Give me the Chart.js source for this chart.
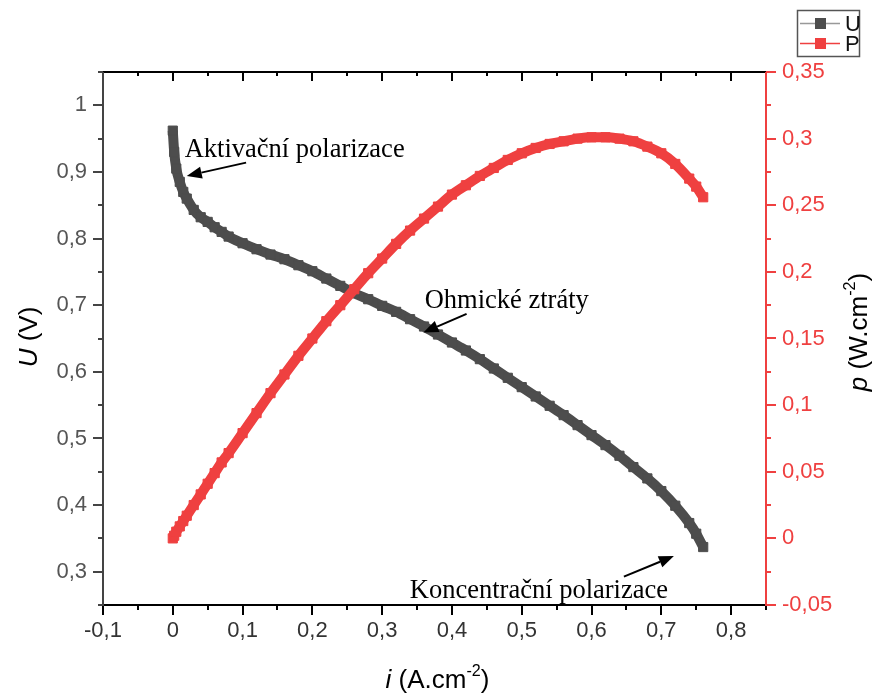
<!DOCTYPE html>
<html>
<head>
<meta charset="utf-8">
<script src="https://cdn.jsdelivr.net/npm/chart.js@4.4.1/dist/chart.umd.min.js"></script>
<style>
    html, body { margin: 0; padding: 0; background: #fff; }
    #obal { width: 878px; height: 693px; }
</style>
</head>
<body>
<div id="obal"><canvas id="graf" width="878" height="693"></canvas></div>
<script>
// hustota proudu i (A.cm-2)
const proud = [0, 0.002, 0.005, 0.01, 0.015, 0.02, 0.03, 0.04, 0.05, 0.06, 0.07, 0.08, 0.10,
    0.12, 0.14, 0.16, 0.18, 0.20, 0.22, 0.24, 0.26, 0.28, 0.30, 0.32, 0.34, 0.36, 0.38, 0.40,
    0.42, 0.44, 0.46, 0.48, 0.50, 0.52, 0.54, 0.56, 0.58, 0.60, 0.62, 0.64, 0.66, 0.68, 0.70,
    0.72, 0.74, 0.75, 0.76];
// napeti U (V)
const napeti = [0.962, 0.930, 0.905, 0.885, 0.870, 0.860, 0.843, 0.832, 0.825, 0.817, 0.810, 0.803, 0.793,
    0.784, 0.776, 0.769, 0.760, 0.751, 0.740, 0.729, 0.718, 0.709, 0.699, 0.690, 0.679, 0.668, 0.656, 0.644,
    0.632, 0.619, 0.605, 0.591, 0.577, 0.563, 0.549, 0.535, 0.520, 0.505, 0.490, 0.474, 0.457, 0.440, 0.421,
    0.399, 0.373, 0.357, 0.337];
// vykon p (W.cm-2)
const vykon = [0, 0.002, 0.005, 0.009, 0.013, 0.017, 0.025, 0.033, 0.041, 0.049, 0.057, 0.064, 0.079,
    0.094, 0.109, 0.123, 0.137, 0.150, 0.163, 0.175, 0.187, 0.199, 0.210, 0.221, 0.231, 0.240, 0.249, 0.258,
    0.265, 0.272, 0.278, 0.284, 0.289, 0.293, 0.296, 0.298, 0.300, 0.301, 0.301, 0.300, 0.298, 0.294, 0.289,
    0.281, 0.270, 0.264, 0.256];

// popisky os
const xTicks = [-0.1, 0, 0.1, 0.2, 0.3, 0.4, 0.5, 0.6, 0.7, 0.8];
const xMinor = [-0.05, 0.05, 0.15, 0.25, 0.35, 0.45, 0.55, 0.65, 0.75, 0.85];
const uTicks = [0.3, 0.4, 0.5, 0.6, 0.7, 0.8, 0.9, 1];
const uMinor = [0.25, 0.35, 0.45, 0.55, 0.65, 0.75, 0.85, 0.95, 1.05];
const pTicks = [-0.05, 0, 0.05, 0.1, 0.15, 0.2, 0.25, 0.3, 0.35];
const pMinor = [-0.025, 0.025, 0.075, 0.125, 0.175, 0.225, 0.275, 0.325];

// popisky oblasti krivky [text, i, U] a sipky [i1, U1, i2, U2]
const popisky = [
    ['Aktivační polarizace', 0.017, 0.923],
    ['Ohmické ztráty', 0.361, 0.696],
    ['Koncentrační polarizace', 0.3396, 0.261]
];
const sipky = [
    [0.105, 0.914, 0.020, 0.894],
    [0.421, 0.687, 0.359, 0.659],
    [0.6464, 0.2925, 0.718, 0.3236]
];

const barvaU = '#4d4d4d';
const barvaP = '#ef4040';
const pismo = 'Arial, "Liberation Sans", sans-serif';
const patkove = '"Times New Roman", "Liberation Serif", serif';

function carka(v) {
    return (Math.round(v * 1000) / 1000).toString().replace('.', ',');
}

function bodyU() {
    return proud.map((x, k) => ({ x: x, y: napeti[k] }));
}
function bodyP() {
    return proud.map((x, k) => ({ x: x, y: vykon[k] }));
}

// text s hornim indexem, kresleny kolem stredu
function bohatyText(ctx, casti, size, cx, cy, uhel) {
    ctx.save();
    ctx.translate(cx, cy);
    ctx.rotate(uhel);
    ctx.textBaseline = 'alphabetic';
    ctx.textAlign = 'left';
    let sirka = 0;
    casti.forEach(c => {
        ctx.font = (c.it ? 'italic ' : '') + (c.sup ? size * 0.62 : size) + 'px ' + pismo;
        c.w = ctx.measureText(c.t).width;
        sirka += c.w;
    });
    let x = -sirka / 2;
    casti.forEach(c => {
        ctx.font = (c.it ? 'italic ' : '') + (c.sup ? size * 0.62 : size) + 'px ' + pismo;
        ctx.fillText(c.t, x, c.sup ? -size * 0.45 : 0);
        x += c.w;
    });
    ctx.restore();
}

function sipka(ctx, x1, y1, x2, y2) {
    const uhel = Math.atan2(y2 - y1, x2 - x1);
    const delka = 15, pul = 6;
    const bx = x2 - delka * Math.cos(uhel), by = y2 - delka * Math.sin(uhel);
    ctx.strokeStyle = '#000';
    ctx.lineWidth = 2;
    ctx.beginPath();
    ctx.moveTo(x1, y1);
    ctx.lineTo(bx, by);
    ctx.stroke();
    ctx.fillStyle = '#000';
    ctx.beginPath();
    ctx.moveTo(x2, y2);
    ctx.lineTo(bx + pul * Math.sin(uhel), by - pul * Math.cos(uhel));
    ctx.lineTo(bx - pul * Math.sin(uhel), by + pul * Math.cos(uhel));
    ctx.closePath();
    ctx.fill();
}

const osyPlugin = {
    id: 'osy',
    afterDraw(chart) {
        const ctx = chart.ctx;
        const a = chart.chartArea;
        const sx = chart.scales.x, sy = chart.scales.y, sp = chart.scales.y1;
        ctx.save();
        ctx.lineWidth = 2;

        // spodni a horni osa
        ctx.strokeStyle = '#000';
        ctx.beginPath();
        ctx.moveTo(a.left, a.bottom); ctx.lineTo(a.right, a.bottom);
        ctx.moveTo(a.left, a.top); ctx.lineTo(a.right, a.top);
        xTicks.forEach(v => {
            const px = Math.round(sx.getPixelForValue(v));
            ctx.moveTo(px, a.bottom); ctx.lineTo(px, a.bottom + 10);
            ctx.moveTo(px, a.top); ctx.lineTo(px, a.top + 9);
        });
        xMinor.forEach(v => {
            const px = Math.round(sx.getPixelForValue(v));
            ctx.moveTo(px, a.bottom); ctx.lineTo(px, a.bottom + 5);
            ctx.moveTo(px, a.top); ctx.lineTo(px, a.top + 4);
        });
        ctx.stroke();

        // leva osa
        ctx.strokeStyle = '#444';
        ctx.beginPath();
        ctx.moveTo(a.left, a.top); ctx.lineTo(a.left, a.bottom + 1);
        uTicks.forEach(v => {
            const py = Math.round(sy.getPixelForValue(v));
            ctx.moveTo(a.left, py); ctx.lineTo(a.left - 10, py);
        });
        uMinor.forEach(v => {
            const py = Math.round(sy.getPixelForValue(v));
            ctx.moveTo(a.left, py); ctx.lineTo(a.left - 5, py);
        });
        ctx.stroke();

        // prava osa
        ctx.strokeStyle = barvaP;
        ctx.beginPath();
        ctx.moveTo(a.right, a.top); ctx.lineTo(a.right, a.bottom + 1);
        pTicks.forEach(v => {
            const py = Math.round(sp.getPixelForValue(v));
            ctx.moveTo(a.right, py); ctx.lineTo(a.right + 10, py);
        });
        pMinor.forEach(v => {
            const py = Math.round(sp.getPixelForValue(v));
            ctx.moveTo(a.right, py); ctx.lineTo(a.right + 5, py);
        });
        ctx.stroke();

        // nazvy os
        ctx.fillStyle = '#000';
        bohatyText(ctx, [{ t: 'i', it: true }, { t: ' (A.cm' }, { t: '-2', sup: true }, { t: ')' }],
            26, (a.left + a.right) / 2 + 3, 688, 0);
        bohatyText(ctx, [{ t: 'U', it: true }, { t: ' (V)' }], 26, 37, 337, -Math.PI / 2);
        bohatyText(ctx, [{ t: 'p', it: true }, { t: ' (W.cm' }, { t: '-2', sup: true }, { t: ')' }],
            26, 867, 332, -Math.PI / 2);

        // popisky a sipky
        ctx.font = '26.5px ' + patkove;
        ctx.textAlign = 'left';
        ctx.textBaseline = 'alphabetic';
        ctx.fillStyle = '#000';
        popisky.forEach(p => {
            ctx.fillText(p[0], sx.getPixelForValue(p[1]), sy.getPixelForValue(p[2]));
        });
        sipky.forEach(s => {
            sipka(ctx, sx.getPixelForValue(s[0]), sy.getPixelForValue(s[1]),
                sx.getPixelForValue(s[2]), sy.getPixelForValue(s[3]));
        });

        // legenda
        ctx.strokeStyle = '#555';
        ctx.lineWidth = 1.5;
        ctx.strokeRect(797.5, 10.5, 62, 46);
        [['U', barvaU, '#999', 23.5], ['P', barvaP, barvaP, 43.5]].forEach(l => {
            ctx.strokeStyle = l[2];
            ctx.lineWidth = 1.5;
            ctx.beginPath();
            ctx.moveTo(800, l[3]); ctx.lineTo(840, l[3]);
            ctx.stroke();
            ctx.fillStyle = l[1];
            ctx.fillRect(815, l[3] - 5.5, 11, 11);
            ctx.fillStyle = '#111';
            ctx.font = '22px ' + pismo;
            ctx.textBaseline = 'middle';
            ctx.fillText(l[0], 845, l[3] + 1);
        });
        ctx.restore();
    }
};

new Chart(document.getElementById('graf'), {
    type: 'line',
    data: {
        datasets: [
            {
                label: 'P',
                data: bodyP(),
                yAxisID: 'y1',
                borderColor: barvaP,
                backgroundColor: barvaP,
                borderWidth: 10,
                cubicInterpolationMode: 'monotone',
                pointStyle: 'rect',
                pointRadius: 6.5,
                pointBorderWidth: 1,
                order: 0
            },
            {
                label: 'U',
                data: bodyU(),
                yAxisID: 'y',
                borderColor: barvaU,
                backgroundColor: barvaU,
                borderWidth: 10,
                cubicInterpolationMode: 'monotone',
                pointStyle: 'rect',
                pointRadius: 6.5,
                pointBorderWidth: 1,
                order: 1
            }
        ]
    },
    options: {
        responsive: false,
        animation: false,
        layout: { padding: { top: 72 } },
        plugins: {
            legend: { display: false },
            tooltip: { enabled: false }
        },
        scales: {
            x: {
                type: 'linear',
                min: -0.1,
                max: 0.85,
                grid: { display: false, drawTicks: false },
                border: { display: false },
                afterBuildTicks: (s) => { s.ticks = xTicks.map(v => ({ value: v })); },
                afterFit: (s) => { s.height = 88; },
                ticks: {
                    color: '#333',
                    padding: 13,
                    maxRotation: 0,
                    font: { family: pismo, size: 22 },
                    callback: (v) => carka(v)
                }
            },
            y: {
                position: 'left',
                min: 0.25,
                max: 1.05,
                grid: { display: false, drawTicks: false },
                border: { display: false },
                afterBuildTicks: (s) => { s.ticks = uTicks.map(v => ({ value: v })); },
                afterFit: (s) => { s.width = 103; },
                ticks: {
                    color: '#555',
                    padding: 16,
                    font: { family: pismo, size: 22 },
                    callback: (v) => carka(v)
                }
            },
            y1: {
                position: 'right',
                min: -0.05,
                max: 0.35,
                grid: { display: false, drawTicks: false },
                border: { display: false },
                afterBuildTicks: (s) => { s.ticks = pTicks.map(v => ({ value: v })); },
                afterFit: (s) => { s.width = 112; },
                ticks: {
                    color: barvaP,
                    padding: 16,
                    font: { family: pismo, size: 22 },
                    callback: (v) => carka(v)
                }
            }
        }
    },
    plugins: [osyPlugin]
});
</script>
</body>
</html>
